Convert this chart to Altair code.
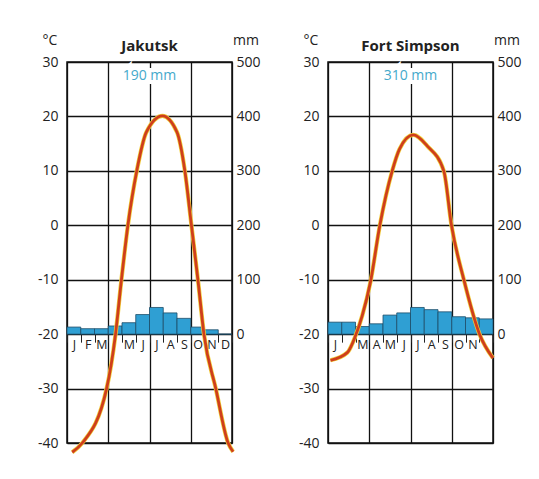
import altair as alt
import pandas as pd

# ---------------- data ----------------
month_index = list(range(12))
jak_month_labels = ["J", "F", "M", "", "M", "J", "J", "A", "S", "O", "N", "D"]
fs_month_labels = ["J", "", "M", "A", "M", "J", "J", "A", "S", "O", "N", ""]

# precipitation (mm) per month
jak_precip = [13, 10, 10, 15, 21, 36, 49, 39, 29, 13, 8, 0]
fs_precip = [22, 22, 14, 19, 35, 39, 49, 45, 41, 32, 30, 28]

# temperature curve readings (position in months from start of Jan, °C)
jak_curve_m = [0.38, 1.11, 2.88, 3.53, 3.95, 4.43, 5.09, 5.77, 6.94,
               8.0, 8.56, 9.05, 9.53, 9.96, 10.82, 11.72, 12.08]
jak_curve_t = [-41.7, -40.0, -30.0, -20.0, -10.2, 0.0, 10.2, 17.1, 20.1,
               17.1, 10.2, 0.0, -10.2, -20.0, -30.0, -40.0, -41.6]

fs_curve_m = [0.18, 1.4, 2.0, 2.49, 3.09, 3.77, 4.67, 5.2, 6.2, 7.21,
              8.42, 8.98, 9.88, 11.02, 12.0]
fs_curve_t = [-24.8, -23.4, -20.3, -16.6, -10.4, 0.0, 10.0, 14.0, 16.6, 14.6,
              10.0, 0.0, -10.0, -20.0, -24.4]

temp_ticks = [-40, -30, -20, -10, 0, 10, 20, 30]
mm_ticks = [0, 100, 200, 300, 400, 500]
quarter_lines = [0, 3, 6, 9, 12]

# ---------------- styling ----------------
W, H = 165, 381
FONT = "Open Sans"
BAR = "#2f9fd3"
BAR_EDGE = "#1d4c68"
LINE_RED = "#cf3e1c"
LINE_YEL = "#f0cf3a"
INK = "#222222"
CAPTION = "#45a9cb"
BASE_OFFSET = -H * 20 / 70  # -20 °C baseline from bottom of plot


def panel(name, total, precip, labels, cm, ct):
    bars_df = pd.DataFrame({"mi": month_index, "mm": precip})
    label_expr = "[" + ",".join("'%s'" % l for l in labels) + "][datum.value]"

    bars = alt.Chart(bars_df).mark_bar(
        color=BAR, stroke=BAR_EDGE, strokeWidth=0.8
    ).encode(
        x=alt.X("mi:O",
                scale=alt.Scale(paddingInner=0, paddingOuter=0),
                axis=alt.Axis(orient="bottom", offset=BASE_OFFSET, tickBand="extent",
                              tickSize=8, tickColor=INK, tickWidth=1,
                              labelExpr=label_expr, labelAngle=0, labelPadding=-4,
                              labelFontSize=12.5, labelColor=INK, labelFont=FONT,
                              domain=False, grid=False, title=None)),
        y=alt.Y("mm:Q",
                scale=alt.Scale(domain=[-200, 500], nice=False, zero=False),
                axis=alt.Axis(orient="right", values=mm_ticks, ticks=False, grid=False,
                              domain=False, labelPadding=4, labelFontSize=14,
                              labelColor=INK, labelFont=FONT, title=None)),
        y2=alt.datum(0),
    )

    line_df = pd.DataFrame({"m": cm, "t": ct})
    xs = alt.Scale(domain=[0, 12], nice=False, zero=False)
    ys = alt.Scale(domain=[-40, 30], nice=False, zero=False)
    xq = alt.X("m:Q", scale=xs,
               axis=alt.Axis(values=quarter_lines, grid=True, gridColor="#111111",
                             gridWidth=1.3, gridOpacity=1, labels=False, ticks=False,
                             domain=False, title=None))
    yq = alt.Y("t:Q", scale=ys,
               axis=alt.Axis(orient="left", values=temp_ticks, grid=True,
                             gridColor="#111111", gridWidth=1.3, gridOpacity=1,
                             labelExpr="datum.value + ''", ticks=False, domain=False,
                             labelPadding=9, labelFontSize=14, labelColor=INK,
                             labelFont=FONT, title=None))
    under = alt.Chart(line_df).mark_line(
        color=LINE_YEL, strokeWidth=4.2, interpolate="monotone", clip=False
    ).encode(x=xq, y=yq)
    line = alt.Chart(line_df).mark_line(
        color=LINE_RED, strokeWidth=2.8, interpolate="monotone", clip=False
    ).encode(x=alt.X("m:Q", scale=xs, axis=None), y=alt.Y("t:Q", scale=ys, axis=None))

    cap_df = pd.DataFrame({"c": [total]})
    cap_bg = alt.Chart(cap_df).mark_text(
        font=FONT, fontSize=14, color="white", stroke="white", strokeWidth=8
    ).encode(x=alt.value(W / 2), y=alt.value(14), text="c:N")
    cap = alt.Chart(cap_df).mark_text(
        font=FONT, fontSize=14, color=CAPTION
    ).encode(x=alt.value(W / 2), y=alt.value(14), text="c:N")

    unit_df = pd.DataFrame({"u": ["°C", "mm"], "px": [-17, W + 14]})
    units = alt.Chart(unit_df).mark_text(
        font=FONT, fontSize=14, color=INK
    ).encode(x=alt.X("px:Q", scale=None), y=alt.value(-21), text="u:N")

    title_df = pd.DataFrame({"n": [name]})
    title = alt.Chart(title_df).mark_text(
        font=FONT, fontSize=15, fontWeight="bold", color=INK
    ).encode(x=alt.value(W / 2), y=alt.value(-16), text="n:N")

    return alt.layer(bars, under, line, cap_bg, cap, units, title).resolve_scale(
        x="independent", y="independent"
    ).resolve_axis(x="independent", y="independent").properties(
        width=W, height=H,
    )


left = panel("Jakutsk", "190 mm", jak_precip, jak_month_labels, jak_curve_m, jak_curve_t)
right = panel("Fort Simpson", "310 mm", fs_precip, fs_month_labels, fs_curve_m, fs_curve_t)

chart = alt.hconcat(left, right, spacing=36).configure_view(
    stroke="#111111", strokeWidth=1.5
).properties(
    padding={"left": 28, "top": 25, "right": 5, "bottom": 5}
)

chart.save("out.html", embed_options={"renderer": "svg", "actions": False})
